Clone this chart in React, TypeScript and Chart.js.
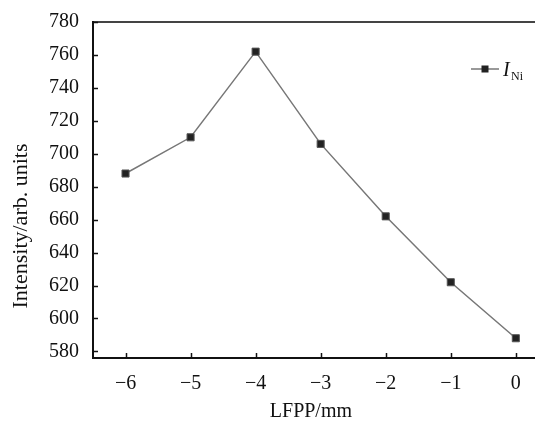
import React, { useEffect, useRef } from "react";
import { Chart, registerables } from "chart.js";

Chart.register(...registerables);

const xValues = [-6, -5, -4, -3, -2, -1, 0];
const intensityNi = [688, 710, 762, 706, 662, 622, 588];
const xTicks = [-6, -5, -4, -3, -2, -1, 0];
const yTicks = [580, 600, 620, 640, 660, 680, 700, 720, 740, 760, 780];
const seriesLabel = "I";
const seriesSub = "Ni";
const xTitle = "LFPP/mm";
const yTitle = "Intensity/arb. units";

const FONT = "'Liberation Serif', 'Times New Roman', serif";

const framePlugin = {
  id: "frame",
  afterDraw(chart: any) {
    const { ctx, chartArea } = chart;
    const xs = chart.scales.x;
    const ys = chart.scales.y;
    const right = chart.width;
    ctx.save();
    // top border
    ctx.strokeStyle = "#444";
    ctx.lineWidth = 2;
    ctx.beginPath();
    ctx.moveTo(chartArea.left, chartArea.top);
    ctx.lineTo(right, chartArea.top);
    ctx.stroke();
    // left + bottom axes
    ctx.strokeStyle = "#111";
    ctx.lineWidth = 2;
    ctx.beginPath();
    ctx.moveTo(chartArea.left, chartArea.top - 1);
    ctx.lineTo(chartArea.left, chartArea.bottom);
    ctx.lineTo(right, chartArea.bottom);
    ctx.stroke();
    // inward ticks
    ctx.lineWidth = 1.5;
    ys.ticks.forEach((t: any) => {
      const y = Math.round(ys.getPixelForValue(t.value)) + 0.5;
      ctx.beginPath();
      ctx.moveTo(chartArea.left, y);
      ctx.lineTo(chartArea.left + 5, y);
      ctx.stroke();
    });
    xs.ticks.forEach((t: any) => {
      const x = Math.round(xs.getPixelForValue(t.value)) + 0.5;
      ctx.beginPath();
      ctx.moveTo(x, chartArea.bottom);
      ctx.lineTo(x, chartArea.bottom - 5);
      ctx.stroke();
    });
    // y axis title
    ctx.save();
    ctx.fillStyle = "#111";
    ctx.font = `22px ${FONT}`;
    ctx.textAlign = "center";
    ctx.textBaseline = "middle";
    ctx.translate(21, 226);
    ctx.rotate(-Math.PI / 2);
    ctx.fillText(yTitle, 0, 0);
    ctx.restore();
    // legend
    const ly = 69;
    ctx.strokeStyle = "#777";
    ctx.lineWidth = 1.5;
    ctx.beginPath();
    ctx.moveTo(471, ly);
    ctx.lineTo(499, ly);
    ctx.stroke();
    ctx.fillStyle = "#222";
    ctx.fillRect(481.5, ly - 3.5, 7, 7);
    ctx.fillStyle = "#111";
    ctx.textBaseline = "alphabetic";
    ctx.textAlign = "left";
    ctx.font = `italic 20px ${FONT}`;
    ctx.fillText(seriesLabel, 503, ly + 7);
    ctx.font = `12px ${FONT}`;
    ctx.fillText(seriesSub, 511, ly + 11);
    ctx.restore();
  },
};

export default function App() {
  const ref = useRef<HTMLCanvasElement | null>(null);
  useEffect(() => {
    if (!ref.current) return;
    const chart = new Chart(ref.current, {
      type: "line",
      data: {
        datasets: [
          {
            label: "I_Ni",
            data: xValues.map((x, i) => ({ x, y: intensityNi[i] })),
            borderColor: "#777",
            borderWidth: 1.5,
            pointStyle: "rect",
            pointRadius: 5,
            pointBackgroundColor: "#222",
            pointBorderColor: "#555",
            pointBorderWidth: 1,
            tension: 0,
          },
        ],
      },
      options: {
        animation: false,
        responsive: false,
        maintainAspectRatio: false,
        layout: { padding: { top: 22, right: 0, left: 0, bottom: 0 } },
        plugins: { legend: { display: false }, tooltip: { enabled: false } },
        scales: {
          x: {
            type: "linear",
            min: -6.5,
            max: 0.2,
            afterBuildTicks: (s: any) => {
              s.ticks = xTicks.map((v) => ({ value: v }));
            },
            afterFit: (s: any) => {
              s.height = 64;
            },
            grid: { display: false, drawTicks: false },
            border: { display: false },
            ticks: {
              autoSkip: false,
              maxRotation: 0,
              padding: 14,
              color: "#111",
              font: { family: FONT, size: 20 },
              callback: (v: any) => (v < 0 ? "\u2212" + Math.abs(v) : String(v)),
            },
            title: {
              display: true,
              text: xTitle,
              color: "#111",
              font: { family: FONT, size: 20, lineHeight: 1 },
              padding: { top: 0, bottom: 0 },
            },
          },
          y: {
            type: "linear",
            min: 576,
            max: 780,
            afterBuildTicks: (s: any) => {
              s.ticks = yTicks.map((v) => ({ value: v }));
            },
            afterFit: (s: any) => {
              s.width = 93;
              s.paddingTop = 0;
              s.paddingBottom = 0;
            },
            grid: { display: false, drawTicks: false },
            border: { display: false },
            ticks: {
              padding: 14,
              color: "#111",
              font: { family: FONT, size: 20 },
            },
            title: { display: false, text: yTitle },
          },
        },
      },
      plugins: [framePlugin],
    });
    return () => chart.destroy();
  }, []);
  return (
    <div style={{ position: "fixed", left: 0, top: 0, width: 535, height: 422, background: "#fff" }}>
      <canvas ref={ref} width={535} height={422} style={{ display: "block" }} />
    </div>
  );
}
